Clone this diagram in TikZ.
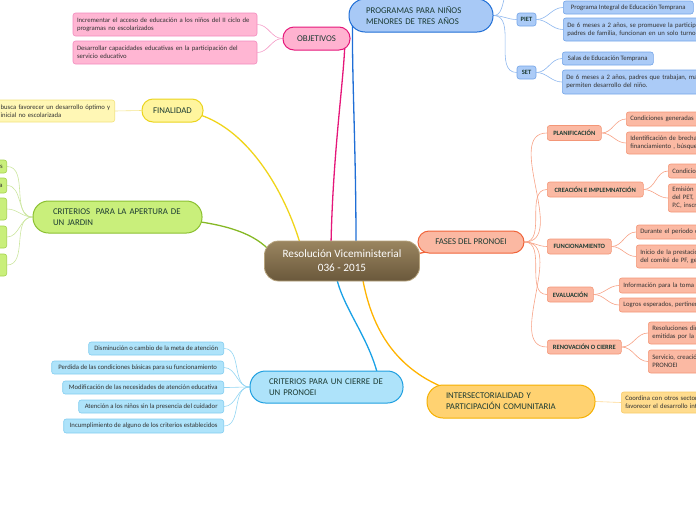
\documentclass[tikz,border=0pt]{standalone}
\usepackage{fontspec}
\setmainfont{Carlito}
\usetikzlibrary{calc}
\pgfdeclarelayer{bg}
\pgfsetlayers{bg,main}
\definecolor{txtc}{HTML}{1C3B33}
\definecolor{ctxt}{HTML}{333333}
\definecolor{pinkF}{HTML}{FFB2D0}\definecolor{pinkD}{HTML}{E5177A}
\definecolor{pinkCF}{HTML}{FFB6D3}\definecolor{pinkCD}{HTML}{F28BBE}\definecolor{pinkL}{HTML}{F49AC6}
\definecolor{blueF}{HTML}{A8C9F6}\definecolor{blueD}{HTML}{1F6ED6}
\definecolor{blueCF}{HTML}{ABCBF7}\definecolor{blueCD}{HTML}{74A5E8}\definecolor{blueL}{HTML}{8EB7EE}
\definecolor{salF}{HTML}{FBB8A2}\definecolor{salD}{HTML}{F0643A}
\definecolor{salCF}{HTML}{FBB9A3}\definecolor{salCD}{HTML}{F39677}\definecolor{salL}{HTML}{F7A286}
\definecolor{oraF}{HTML}{FFD271}\definecolor{oraD}{HTML}{F5B000}
\definecolor{oraCF}{HTML}{FFDC8E}\definecolor{oraCD}{HTML}{F8CB6A}\definecolor{oraL}{HTML}{FFB300}\definecolor{oraCL}{HTML}{FFD890}
\definecolor{cyF}{HTML}{AEE3FA}\definecolor{cyD}{HTML}{1E9FE0}
\definecolor{cyCD}{HTML}{83CDF0}\definecolor{cyL}{HTML}{1AA1E6}\definecolor{cyCL}{HTML}{94D6F3}
\definecolor{yelF}{HTML}{FFF59E}\definecolor{yelD}{HTML}{EBD41E}
\definecolor{yelCF}{HTML}{FFF7B5}\definecolor{yelCD}{HTML}{F2E27E}\definecolor{yelL}{HTML}{F0D41A}\definecolor{yelCL}{HTML}{F5E58C}
\definecolor{grnF}{HTML}{C9EF7B}\definecolor{grnD}{HTML}{8BC031}
\definecolor{grnCD}{HTML}{A5D34E}\definecolor{grnL}{HTML}{86B825}\definecolor{grnCL}{HTML}{CCE6A0}
\definecolor{brT}{HTML}{9A8560}\definecolor{brB}{HTML}{6A583B}\definecolor{brD}{HTML}{B7A47E}
\begin{document}
\begin{tikzpicture}[x=1pt,y=-1pt,
  pill/.style={draw, line width=1, text=txtc, font=\fontsize{8.8}{10.8}\selectfont, rounded corners=11, inner sep=0pt},
  pilltwo/.style={pill, rounded corners=15.5, align=left},
  cbox/.style={draw, line width=0.6, text=ctxt, font=\fontsize{6.7}{8.2}\selectfont, rounded corners=2.5, inner xsep=4, inner ysep=2},
  clip/.style={cbox, anchor=west, text width=150, align=left},
  phase/.style={draw, line width=0.6, text=txtc, font=\fontsize{6.5}{7.5}\selectfont\bfseries, rounded corners=2.5, inner sep=0pt, anchor=west, minimum height=15},
  mlink/.style={line width=1.3},
  clink/.style={line width=0.6}
]
\useasboundingbox (0,0) rectangle (696,520);

% centre
\node[draw=brD, line width=0.8, top color=brT, bottom color=brB, rounded corners=14, minimum width=155, minimum height=40, text=white, align=center, font=\fontsize{11.2}{14}\selectfont] (res) at (342,261) {Resolución Viceministerial\\036 - 2015};

% OBJETIVOS
\node[pill, fill=pinkF, draw=pinkD, minimum width=67, minimum height=23] (obj) at (316.5,38.5) {OBJETIVOS};
\node[cbox, fill=pinkCF, draw=pinkCD, text width=176, minimum height=23, align=left] (obj1) at (165,24.5) {Incrementar el acceso de educación a los niños del II ciclo de\\programas no escolarizados};
\node[cbox, fill=pinkCF, draw=pinkCD, text width=176, minimum height=23, align=left] (obj2) at (165,52.5) {Desarrollar capacidades educativas en la participación del\\servicio educativo};

% FINALIDAD
\node[pill, fill=yelF, draw=yelD, minimum width=61, minimum height=23] (fin) at (172.5,110.5) {FINALIDAD};
\node[cbox, fill=yelCF, draw=yelCD, anchor=east, text width=170, align=left, minimum height=22] (fin1) at (115,111) {\hspace*{60pt}busca favorecer un desarrollo óptimo y\\\hspace*{60pt}inicial no escolarizada};

% APERTURA
\node[pilltwo, fill=grnF, draw=grnD, text width=129, inner xsep=20, minimum height=32] (ap) at (117.5,217) {CRITERIOS\ \ PARA LA APERTURA DE\\UN JARDIN};
\node[cbox, fill=grnF, draw=grnCD, anchor=east, text width=32, align=right, minimum height=13] (ap1) at (7,166.5) {s};
\node[cbox, fill=grnF, draw=grnCD, anchor=east, text width=32, align=right, minimum height=15] (ap2) at (7,185.5) {a};
\node[cbox, fill=grnF, draw=grnCD, anchor=east, text width=32, minimum height=22] (ap3) at (7,209) {};
\node[cbox, fill=grnF, draw=grnCD, anchor=east, text width=32, minimum height=22] (ap4) at (7,237) {};
\node[cbox, fill=grnF, draw=grnCD, anchor=east, text width=32, minimum height=22] (ap5) at (7,265) {};

% PROGRAMAS
\node[pilltwo, fill=blueF, draw=blueD, text width=110, inner xsep=17, minimum height=33, rounded corners=16] (prog) at (421,15.5) {PROGRAMAS PARA NIÑOS\\MENORES DE TRES AÑOS};
\node[phase, fill=blueCF, draw=blueCD, anchor=center, minimum width=19, minimum height=13] (piet) at (526.5,19.5) {PIET};
\node[phase, fill=blueCF, draw=blueCD, anchor=center, minimum width=19, minimum height=13] (set) at (526.5,72.5) {SET};
\node[cbox, fill=blueCF, draw=blueCD, anchor=west, minimum width=130, minimum height=13] (p1) at (563,7.5) {Programa Integral de Educación Temprana};
\node[clip, fill=blueCF, draw=blueCD, minimum height=23] (p2) at (563,29.5) {De 6 meses a 2 años, se promueve la participación\\padres de familia, funcionan en un solo turno};
\node[cbox, fill=blueCF, draw=blueCD, anchor=west, minimum width=91, minimum height=13] (s1) at (562,58.5) {Salas de Educación Temprana};
\node[clip, fill=blueCF, draw=blueCD, minimum height=24] (s2) at (562,82) {De 6 meses a 2 años, padres que trabajan, ma\\permiten desarrollo del niño.};

% FASES
\node[pill, fill=salF, draw=salD, minimum width=106, minimum height=22] (fases) at (471,242) {FASES DEL PRONOEI};
\node[phase, fill=salCF, draw=salCD, minimum width=54] (pl) at (547,133) {PLANIFICACIÓN};
\node[phase, fill=salCF, draw=salCD, minimum width=96] (cr) at (547,189.5) {CREACIÓN E IMPLEMNATCIÓN};
\node[phase, fill=salCF, draw=salCD, minimum width=64] (fu) at (547,246.5) {FUNCIONAMIENTO};
\node[phase, fill=salCF, draw=salCD, minimum width=46] (ev) at (547,294.5) {EVALUACIÓN};
\node[phase, fill=salCF, draw=salCD, minimum width=74, minimum height=14] (re) at (547,347) {RENOVACIÓN O CIERRE};
\node[clip, fill=salCF, draw=salCD, minimum height=14] (pl1) at (626,119) {Condiciones generadas};
\node[clip, fill=salCF, draw=salCD, minimum height=22] (pl2) at (626,143) {Identificación de brechas\\financiamiento , búsqueda};
\node[clip, fill=salCF, draw=salCD, minimum height=14] (cr1) at (668,171) {Condiciones};
\node[clip, fill=salCF, draw=salCD, minimum height=28] (cr2) at (668,198) {Emisión\\del PET,\\P.C, inscripción};
\node[clip, fill=salCF, draw=salCD, minimum height=14] (fu1) at (636,232) {Durante el periodo de};
\node[clip, fill=salCF, draw=salCD, minimum height=23] (fu2) at (636,256.5) {Inicio de la prestación\\del comité de PF, gestión};
\node[clip, fill=salCF, draw=salCD, minimum height=15] (ev1) at (619,285.5) {Información para la toma de};
\node[clip, fill=salCF, draw=salCD, minimum height=14] (ev2) at (619,305) {Logros esperados, pertinencia};
\node[clip, fill=salCF, draw=salCD, minimum height=22] (re1) at (648,333) {Resoluciones directorales\\emitidas por la UGEL};
\node[clip, fill=salCF, draw=salCD, minimum height=23] (re2) at (648,361.5) {Servicio, creación\\PRONOEI};

% CIERRE
\node[pilltwo, fill=cyF, draw=cyD, text width=115, inner xsep=19, minimum height=32] (ci) at (326.5,387) {CRITERIOS PARA UN CIERRE DE\\UN PRONOEI};
\node[cbox, fill=cyF, draw=cyCD, anchor=east, minimum width=135, minimum height=13] (ci1) at (224,348.5) {Disminución o cambio de la meta de atención};
\node[cbox, fill=cyF, draw=cyCD, anchor=east, minimum width=172, minimum height=13] (ci2) at (224,367.5) {Perdida de las condiciones básicas para su funcionamiento};
\node[cbox, fill=cyF, draw=cyCD, anchor=east, minimum width=161, minimum height=13] (ci3) at (224,387.5) {Modificación de las necesidades de atención educativa};
\node[cbox, fill=cyF, draw=cyCD, anchor=east, minimum width=145, minimum height=13] (ci4) at (224,406.5) {Atención a los niños sin la presencia del cuidador};
\node[cbox, fill=cyF, draw=cyCD, anchor=east, minimum width=160, minimum height=14] (ci5) at (224,426) {Incumplimiento de alguno de los criterios establecidos};

% INTERSECTORIALIDAD
\node[pilltwo, fill=oraF, draw=oraD, text width=130, inner xsep=19, minimum height=33, rounded corners=16] (int) at (511,401.5) {INTERSECTORIALIDAD Y\\PARTICIPACIÓN COMUNITARIA};
\node[clip, fill=oraCF, draw=oraCD, minimum height=21] (int1) at (621,402.5) {Coordina con otros sectores\\favorecer el desarrollo integral};

\coordinate (offtop) at (506,-8);

\begin{pgfonlayer}{bg}
% main branches
\draw[mlink, draw=pinkD] ($(res.north)+(-11,4)$) .. controls (333,150) and (344,80) .. (345,40);
\draw[mlink, draw=blueD] ($(res.north)+(14,4)$) .. controls (356,150) and (352,80) .. ($(prog.south west)+(4,-8)$);
\draw[mlink, draw=yelL] ($(res.north)+(-41,6)$) .. controls (285,190) and (240,110) .. (fin.center);
\draw[mlink, draw=grnL] ($(res.west)+(8,-8)$) .. controls (255,234) and (225,217) .. (ap.center);
\draw[mlink, draw=salD] ($(res.east)+(-8,-6)$) -- (fases.center);
\draw[mlink, draw=cyL] ($(res.south)+(-6,-6)$) .. controls (343,310) and (372,340) .. (380,385);
\draw[mlink, draw=oraL] ($(res.south)+(20,-6)$) .. controls (370,320) and (392,395) .. (int.center);
% children
\foreach \c in {obj1,obj2} \draw[clink, draw=pinkL] (obj.west) to[out=180,in=0] (\c.east);
\draw[clink, draw=yelCL] (fin.west) -- (fin1.east);
\foreach \c in {ap1,ap2,ap3,ap4,ap5} \draw[clink, draw=grnCL] (ap.west) to[out=180,in=0] (\c.east);
\foreach \c in {piet,set} \draw[clink, draw=blueL] (prog.east) to[out=0,in=180] (\c.west);
\draw[clink, draw=blueL] (prog.east) .. controls (502,15.5) and (502,5) .. (offtop);
\foreach \c in {p1,p2} \draw[clink, draw=blueL] (piet.east) to[out=0,in=180] (\c.west);
\foreach \c in {s1,s2} \draw[clink, draw=blueL] (set.east) to[out=0,in=180] (\c.west);
\foreach \c in {pl,cr,fu,ev,re} \draw[clink, draw=salL] (fases.east) to[out=0,in=180] (\c.west);
\foreach \c in {pl1,pl2} \draw[clink, draw=salL] (pl.east) to[out=0,in=180] (\c.west);
\foreach \c in {cr1,cr2} \draw[clink, draw=salL] (cr.east) to[out=0,in=180] (\c.west);
\foreach \c in {fu1,fu2} \draw[clink, draw=salL] (fu.east) to[out=0,in=180] (\c.west);
\foreach \c in {ev1,ev2} \draw[clink, draw=salL] (ev.east) to[out=0,in=180] (\c.west);
\foreach \c in {re1,re2} \draw[clink, draw=salL] (re.east) to[out=0,in=180] (\c.west);
\foreach \c in {ci1,ci2,ci3,ci4,ci5} \draw[clink, draw=cyCL] (ci.west) to[out=180,in=0] (\c.east);
\draw[clink, draw=oraCL] (int.east) -- (int1.west);
\end{pgfonlayer}
\end{tikzpicture}
\end{document}
